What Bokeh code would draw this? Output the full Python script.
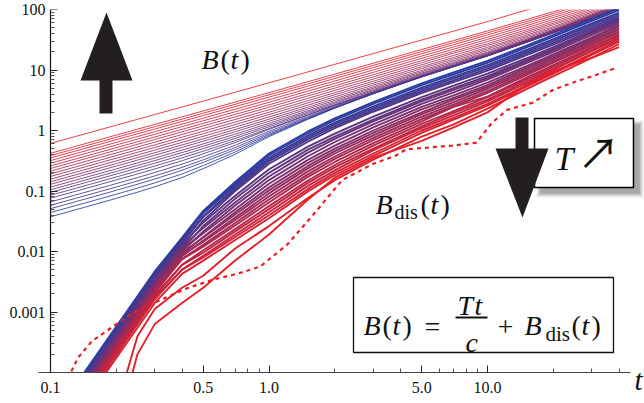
import math
from bokeh.plotting import figure
from bokeh.models import FixedTicker, CustomJSTickFormatter, BoxAnnotation, Label, Range1d, LogAxis
from bokeh.embed import file_html
from bokeh.resources import INLINE

# ---------------- data ----------------
t_grid = [0.13, 0.15, 0.2, 0.25, 0.3, 0.4, 0.5, 0.7, 1.0, 1.5, 2.0, 3.0, 5.0, 7.0, 10.0, 15.0, 20.0, 30.0, 40.0]
NAN = float("nan")
# log10 of B_dis(t); row 0 = lowest T (blue) ... last row = highest T (red)
bdis_log10 = [
    [-4.21, -3.89, -3.24, -2.74, -2.33, -1.77, -1.33, -0.85, -0.38, -0.02, 0.20, 0.47, 0.78, 0.96, 1.15, 1.40, 1.58, 1.84, 2.02],
    [-4.27, -3.94, -3.29, -2.79, -2.38, -1.82, -1.36, -0.88, -0.41, -0.05, 0.17, 0.44, 0.75, 0.93, 1.12, 1.37, 1.55, 1.81, 1.99],
    [-4.24, -3.92, -3.27, -2.76, -2.35, -1.79, -1.37, -0.91, -0.45, -0.09, 0.13, 0.40, 0.71, 0.89, 1.08, 1.33, 1.51, 1.77, 1.95],
    [-4.32, -3.99, -3.34, -2.84, -2.43, -1.87, -1.42, -0.94, -0.48, -0.12, 0.10, 0.37, 0.68, 0.86, 1.05, 1.30, 1.48, 1.74, 1.92],
    [-4.29, -3.97, -3.32, -2.81, -2.40, -1.84, -1.43, -0.97, -0.51, -0.15, 0.07, 0.34, 0.65, 0.83, 1.02, 1.27, 1.45, 1.71, 1.89],
    [-4.37, -4.05, -3.40, -2.89, -2.48, -1.92, -1.49, -1.00, -0.55, -0.19, 0.04, 0.31, 0.62, 0.80, 0.99, 1.24, 1.42, 1.68, 1.86],
    [-4.34, -4.02, -3.37, -2.87, -2.46, -1.89, -1.52, -1.08, -0.64, -0.27, -0.05, 0.23, 0.55, 0.74, 0.94, 1.19, 1.38, 1.65, 1.84],
    [-4.42, -4.10, -3.45, -2.94, -2.53, -1.97, -1.58, -1.13, -0.70, -0.32, -0.10, 0.18, 0.51, 0.70, 0.90, 1.16, 1.35, 1.63, 1.82],
    [-4.38, -4.06, -3.41, -2.91, -2.50, -1.93, -1.61, -1.19, -0.76, -0.37, -0.14, 0.15, 0.48, 0.67, 0.87, 1.14, 1.33, 1.61, 1.80],
    [-4.46, -4.14, -3.49, -2.98, -2.57, -2.00, -1.67, -1.24, -0.82, -0.43, -0.19, 0.10, 0.44, 0.63, 0.84, 1.11, 1.30, 1.58, 1.77],
    [-4.42, -4.10, -3.45, -2.94, -2.53, -1.97, -1.70, -1.30, -0.88, -0.49, -0.25, 0.05, 0.39, 0.58, 0.79, 1.06, 1.26, 1.54, 1.74],
    [-4.50, -4.18, -3.53, -3.02, -2.61, -2.04, -1.76, -1.35, -0.94, -0.54, -0.30, 0.00, 0.35, 0.54, 0.75, 1.03, 1.23, 1.52, 1.72],
    [-4.47, -4.15, -3.50, -3.00, -2.59, -2.02, -1.77, -1.39, -0.99, -0.59, -0.34, -0.04, 0.30, 0.51, 0.72, 1.00, 1.20, 1.49, 1.69],
    [-4.54, -4.22, -3.57, -3.06, -2.65, -2.08, -1.82, -1.44, -1.04, -0.63, -0.38, -0.08, 0.27, 0.47, 0.69, 0.97, 1.17, 1.47, 1.67],
    [-4.51, -4.19, -3.54, -3.03, -2.62, -2.05, -1.84, -1.48, -1.09, -0.68, -0.43, -0.12, 0.23, 0.43, 0.65, 0.94, 1.14, 1.44, 1.64],
    [-4.58, -4.25, -3.60, -3.10, -2.69, -2.12, -1.89, -1.53, -1.14, -0.73, -0.47, -0.16, 0.19, 0.40, 0.62, 0.91, 1.12, 1.41, 1.62],
    [-4.55, -4.23, -3.58, -3.07, -2.66, -2.13, -1.92, -1.57, -1.19, -0.77, -0.52, -0.21, 0.15, 0.39, 0.56, 0.87, 1.08, 1.38, 1.59],
    [-4.63, -4.31, -3.66, -3.15, -2.74, -2.22, -1.98, -1.63, -1.25, -0.83, -0.57, -0.25, 0.11, 0.32, 0.55, 0.84, 1.05, 1.36, 1.57],
    [-4.60, -4.28, -3.63, -3.13, -2.72, -2.22, -2.02, -1.67, -1.30, -0.87, -0.61, -0.30, 0.07, 0.29, 0.51, 0.81, 1.02, 1.33, 1.54],
    [-4.68, -4.36, -3.71, -3.20, -2.79, -2.30, -2.07, -1.72, -1.35, -0.92, -0.66, -0.33, 0.04, 0.25, 0.48, 0.78, 1.00, 1.31, 1.52],
    [-4.66, -4.33, -3.68, -3.18, -2.77, -2.30, -2.10, -1.76, -1.40, -0.97, -0.70, -0.38, 0.00, 0.21, 0.44, 0.74, 0.96, 1.27, 1.49],
    [-4.73, -4.41, -3.76, -3.26, -2.85, -2.37, -2.15, -1.81, -1.45, -1.01, -0.74, -0.42, -0.04, 0.18, 0.41, 0.72, 0.94, 1.25, 1.47],
    [NAN, NAN, -4.60, -3.40, -2.95, -2.60, -2.40, -1.95, -1.58, -1.12, -0.82, -0.48, -0.10, 0.10, 0.36, 0.68, 0.90, 1.20, 1.43],
    [NAN, NAN, -5.00, -3.70, -3.20, -2.85, -2.60, -2.15, -1.72, -1.15, -0.78, -0.45, -0.17, 0.05, 0.30, 0.75, 0.98, 1.20, 1.38],
]
# slope T/c of the thin B(t) lines, same order (blue ... red)
T_over_c = [0.375, 0.44, 0.51, 0.58, 0.66, 0.76, 0.85, 0.95, 1.05, 1.16, 1.29, 1.42,
            1.57, 1.74, 1.92, 2.13, 2.36, 2.60, 2.88, 3.18, 3.52, 3.85, 4.20, 6.12]
t_start = 0.1
# dotted red curve
dotted_t = [0.12, 0.134, 0.155, 0.19, 0.235, 0.31, 0.42, 0.56, 0.73, 0.91, 1.21, 1.64, 2.16,
            3.0, 3.83, 4.25, 6.9, 8.9, 10.5, 12.3, 16.1, 19.9, 24.5, 30.3, 38.5]
dotted_log10 = [-4.1, -3.75, -3.48, -3.26, -3.03, -2.82, -2.61, -2.46, -2.36, -2.25, -1.89, -1.34, -0.82,
                -0.55, -0.41, -0.31, -0.25, -0.20, 0.13, 0.34, 0.46, 0.67, 0.79, 0.90, 1.03]

x_major = [0.1, 0.5, 1.0, 5.0, 10.0]
x_minor = [0.2, 0.3, 0.4, 0.6, 0.7, 0.8, 0.9, 2, 3, 4, 6, 7, 8, 9, 20, 30, 40]
y_major = [0.001, 0.01, 0.1, 1, 10, 100]
y_minor = [m * 10.0 ** e for e in range(-4, 2) for m in range(2, 10)]
X_AXIS_AT = 1e-4
Y_AXIS_AT = 0.1
Y_TOP = 100

# ---------------- layout helpers (page pixels) ----------------
W, H = 644, 400
FL, FR = 37, 644          # frame left / right
XA = 50                   # pixel of t = 0.1
DEC_X = 218.5
FT, YA, FB = 9, 372, 400  # frame top (=100), x-axis (=1e-4), frame bottom
Y_PER = (YA - FT) / 6.0
SERIF = "Times"


def tx(px):
    return 10 ** ((px - XA) / DEC_X - 1)


def ty(py):
    return 10 ** (2 - (py - FT) / Y_PER)


BLUE = (38, 62, 165)
RED = (234, 30, 38)


def col(f):
    c = [round(BLUE[i] * (1 - f) + RED[i] * f) for i in range(3)]
    return "#%02x%02x%02x" % tuple(c)


p = figure(width=W, height=H, x_axis_type="log", y_axis_type="log",
           x_range=Range1d(tx(FL), tx(FR)), y_range=Range1d(ty(FB), ty(FT)),
           output_backend="svg", toolbar_location=None,
           min_border_left=FL, min_border_right=W - FR, min_border_top=FT, min_border_bottom=H - FB)
p.outline_line_color = None
p.grid.visible = False
p.background_fill_color = "white"
p.border_fill_color = "white"


def style_axis(ax):
    ax.major_tick_in = 7
    ax.major_tick_out = 0
    ax.minor_tick_in = 4
    ax.minor_tick_out = 0
    ax.major_tick_line_color = "#222222"
    ax.minor_tick_line_color = "#555555"
    ax.major_label_text_font = SERIF
    ax.major_label_text_font_size = "16px"
    ax.major_label_text_color = "#111111"
    ax.axis_line_color = None


xa = p.xaxis[0]
xa.ticker = FixedTicker(ticks=x_major, minor_ticks=x_minor)
xa.formatter = CustomJSTickFormatter(code="return tick.toFixed(1);")
xa.fixed_location = X_AXIS_AT
style_axis(xa)
xa.major_label_standoff = 9

# y labels (normal left axis, labels only)
ya = p.yaxis[0]
ya.ticker = FixedTicker(ticks=y_major)
ya.formatter = CustomJSTickFormatter(code="return String(tick);")
style_axis(ya)
ya.major_tick_in = 0
ya.minor_tick_in = 0
ya.major_tick_line_color = None
ya.minor_tick_line_color = None
ya.major_label_standoff = -(XA - FL) + 5

# y ticks at t = 0.1
yt = LogAxis(ticker=FixedTicker(ticks=y_major, minor_ticks=y_minor), fixed_location=Y_AXIS_AT)
style_axis(yt)
yt.major_label_text_font_size = "0px"
yt.major_label_text_alpha = 0
p.add_layout(yt, "left")

N = len(bdis_log10)
# thin lines B(t) = T t / c + B_dis(t)
for k in range(N):
    a = T_over_c[k]
    ts = [t_start] + t_grid
    bs = [a * t_start] + [a * t + (0 if math.isnan(v) else 10 ** v) for t, v in zip(t_grid, bdis_log10[k])]
    p.line(ts, bs, line_color=col(k / (N - 1)), line_width=1, line_alpha=0.85)
# thick B_dis lines
for k in range(N):
    p.line(t_grid, [10 ** v for v in bdis_log10[k]], line_color=col(k / (N - 1)), line_width=1.9,
           line_join="round")
# dotted curve
p.line(dotted_t, [10 ** v for v in dotted_log10], line_color=col(1.0), line_width=2.2, line_dash="4 4")

# mask below the x axis (plot range ends at 1e-4)
p.quad(left=[tx(FL)], right=[tx(FR)], bottom=[ty(FB)], top=[X_AXIS_AT], fill_color="white", line_color=None)
# axis lines
p.segment(x0=[tx(38)], y0=[X_AXIS_AT], x1=[tx(630)], y1=[X_AXIS_AT], line_color="#444444", line_width=1)
p.segment(x0=[Y_AXIS_AT], y0=[X_AXIS_AT], x1=[Y_AXIS_AT], y1=[Y_TOP], line_color="#111111", line_width=1.2)

# boxes
for r, a in [(4, 0.06), (3, 0.07), (2, 0.08), (1, 0.09), (0, 0.1)]:
    p.add_layout(BoxAnnotation(left=tx(540 - r), right=tx(639 + r), top=ty(124 - r), bottom=ty(193 + r),
                               fill_color="black", fill_alpha=a, line_color=None, level="underlay"))
p.add_layout(BoxAnnotation(left=tx(534), right=tx(633), top=ty(118), bottom=ty(187),
                           fill_color="white", fill_alpha=1, line_color="black", line_alpha=1,
                           line_width=1.5, level="underlay"))
p.add_layout(BoxAnnotation(left=tx(353), right=tx(613), top=ty(277), bottom=ty(352),
                           fill_color="white", fill_alpha=1, line_color="#111111", line_alpha=1,
                           line_width=1.3, level="underlay"))

# block arrows
up = [(99, 113), (99, 80), (80, 80), (106, 12), (132, 80), (112, 80), (112, 113)]
down = [(515, 117), (528, 117), (528, 148), (548, 148), (522, 217), (495, 148), (515, 148)]
for shape in (up, down):
    p.patch([tx(x) for x, y in shape], [ty(y) for x, y in shape], fill_color="#231f20", line_color=None)

# fraction bar
p.segment(x0=[tx(455)], y0=[ty(317)], x1=[tx(487)], y1=[ty(317)], line_color="#111111", line_width=1.8)


def lab(x, y, s, size, style="normal", font=SERIF, align="left", baseline="alphabetic"):
    p.add_layout(Label(x=tx(x), y=ty(y), text=s, text_font=font, text_font_size=f"{size}px",
                       text_font_style=style, text_align=align, text_baseline=baseline,
                       text_color="#111111"))


# B(t)
lab(201, 59, "B", 28, "italic"); lab(220, 59, "(", 28); lab(230, 59, "t", 28, "italic"); lab(240, 59, ")", 28)
# B_dis(t)
lab(375, 204, "B", 28, "italic"); lab(394, 211, "dis", 20); lab(420, 204, "(", 28)
lab(430, 204, "t", 28, "italic"); lab(440, 204, ")", 28)
# formula
lab(363, 325, "B", 28, "italic"); lab(382, 325, "(", 28); lab(392, 325, "t", 28, "italic"); lab(402, 325, ")", 28)
lab(424, 326, "=", 28)
lab(457, 305, "T", 28, "italic"); lab(474, 305, "t", 28, "italic"); lab(465, 342, "c", 28, "italic")
lab(497, 326, "+", 28)
lab(524, 325, "B", 28, "italic"); lab(545, 333, "dis", 21); lab(571, 325, "(", 28)
lab(581, 325, "t", 28, "italic"); lab(591, 325, ")", 28)
# T box
lab(554, 158, "T", 34, "italic")
lab(598, 150, "↗", 42, font="Noto Sans CJK JP", align="center", baseline="middle")
# axis label
lab(634, 379, "t", 29, "italic")

open("out.html", "w").write(file_html(p, INLINE))
